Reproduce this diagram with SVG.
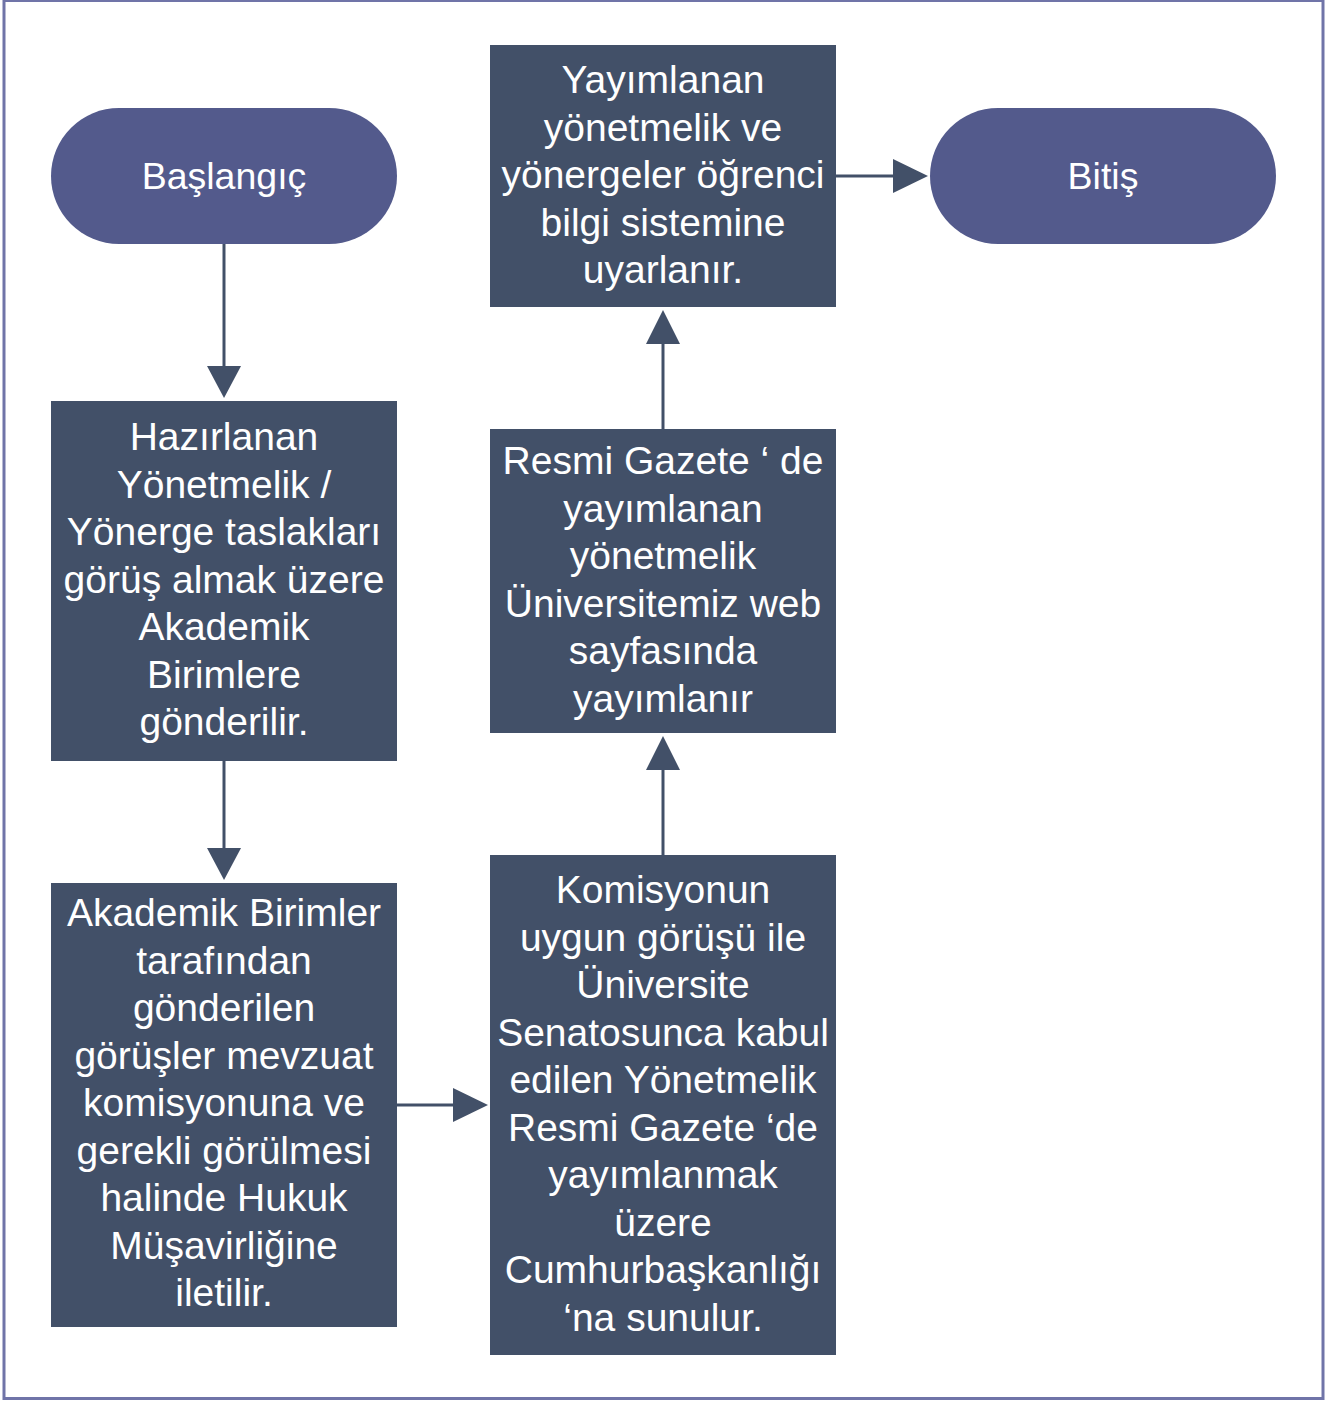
<svg xmlns="http://www.w3.org/2000/svg" width="1332" height="1402" viewBox="0 0 1332 1402">
<style>
.pill{fill:#535a8c}
.box{fill:#425068}
.t{fill:#ffffff;font-family:"Liberation Sans",Arial,sans-serif;font-size:39px;text-anchor:middle}
.tp{font-size:37.5px}
.c{stroke:#425068;stroke-width:3;fill:none}
.h{fill:#425068}
</style>
<rect x="0" y="0" width="1332" height="1402" fill="#ffffff"/>
<rect x="4" y="0.5" width="1319" height="1398" fill="none" stroke="#7074a8" stroke-width="3"/>
<g id="connectors">
<line class="c" x1="224" y1="244" x2="224" y2="368"/>
<polygon class="h" points="207,366 241,366 224,398"/>
<line class="c" x1="224" y1="761" x2="224" y2="850"/>
<polygon class="h" points="207,848 241,848 224,880"/>
<line class="c" x1="397" y1="1105" x2="455" y2="1105"/>
<polygon class="h" points="453,1088 453,1122 488,1105"/>
<line class="c" x1="663" y1="855" x2="663" y2="768"/>
<polygon class="h" points="646,770 680,770 663,736"/>
<line class="c" x1="663" y1="429" x2="663" y2="342"/>
<polygon class="h" points="646,344 680,344 663,310"/>
<line class="c" x1="836" y1="176" x2="895" y2="176"/>
<polygon class="h" points="893,159 893,193 928,176"/>
</g>
<g id="start">
<rect class="pill" x="51" y="108" width="346" height="136" rx="68" ry="68"/>
<text class="t tp" x="224" y="189">Başlangıç</text>
</g>
<g id="end">
<rect class="pill" x="930" y="108" width="346" height="136" rx="68" ry="68"/>
<text class="t tp" x="1103" y="189">Bitiş</text>
</g>
<g id="step1">
<rect class="box" x="51" y="401" width="346" height="360"/>
<text class="t" x="224" y="450"><tspan x="224">Hazırlanan</tspan><tspan x="224" dy="47.5">Yönetmelik /</tspan><tspan x="224" dy="47.5">Yönerge taslakları</tspan><tspan x="224" dy="47.5">görüş almak üzere</tspan><tspan x="224" dy="47.5">Akademik</tspan><tspan x="224" dy="47.5">Birimlere</tspan><tspan x="224" dy="47.5">gönderilir.</tspan></text>
</g>
<g id="step2">
<rect class="box" x="51" y="883" width="346" height="444"/>
<text class="t" x="224" y="926"><tspan x="224">Akademik Birimler</tspan><tspan x="224" dy="47.5">tarafından</tspan><tspan x="224" dy="47.5">gönderilen</tspan><tspan x="224" dy="47.5">görüşler mevzuat</tspan><tspan x="224" dy="47.5">komisyonuna ve</tspan><tspan x="224" dy="47.5">gerekli görülmesi</tspan><tspan x="224" dy="47.5">halinde Hukuk</tspan><tspan x="224" dy="47.5">Müşavirliğine</tspan><tspan x="224" dy="47.5">iletilir.</tspan></text>
</g>
<g id="step3">
<rect class="box" x="490" y="855" width="346" height="500"/>
<text class="t" x="663" y="903"><tspan x="663">Komisyonun</tspan><tspan x="663" dy="47.5">uygun görüşü ile</tspan><tspan x="663" dy="47.5">Üniversite</tspan><tspan x="663" dy="47.5">Senatosunca kabul</tspan><tspan x="663" dy="47.5">edilen Yönetmelik</tspan><tspan x="663" dy="47.5">Resmi Gazete ‘de</tspan><tspan x="663" dy="47.5">yayımlanmak</tspan><tspan x="663" dy="47.5">üzere</tspan><tspan x="663" dy="47.5">Cumhurbaşkanlığı</tspan><tspan x="663" dy="47.5">‘na sunulur.</tspan></text>
</g>
<g id="step4">
<rect class="box" x="490" y="429" width="346" height="304"/>
<text class="t" x="663" y="474"><tspan x="663">Resmi Gazete ‘ de</tspan><tspan x="663" dy="47.5">yayımlanan</tspan><tspan x="663" dy="47.5">yönetmelik</tspan><tspan x="663" dy="47.5">Üniversitemiz web</tspan><tspan x="663" dy="47.5">sayfasında</tspan><tspan x="663" dy="47.5">yayımlanır</tspan></text>
</g>
<g id="step5">
<rect class="box" x="490" y="45" width="346" height="262"/>
<text class="t" x="663" y="93"><tspan x="663">Yayımlanan</tspan><tspan x="663" dy="47.5">yönetmelik ve</tspan><tspan x="663" dy="47.5">yönergeler öğrenci</tspan><tspan x="663" dy="47.5">bilgi sistemine</tspan><tspan x="663" dy="47.5">uyarlanır.</tspan></text>
</g>
</svg>
